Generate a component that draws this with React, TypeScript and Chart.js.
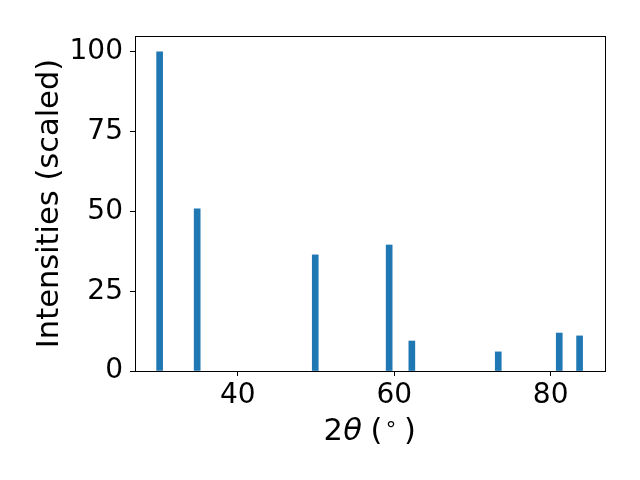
import React, { useEffect, useRef } from "react";
import { Chart, registerables } from "chart.js";

Chart.register(...registerables);

const positions = [30.0, 34.8, 49.9, 59.35, 62.25, 73.3, 81.1, 83.7];
const intensities = [100, 50.8, 36.4, 39.5, 9.4, 6.0, 11.9, 11.0];
const xTicks = [40, 60, 80];
const yTicks = [0, 25, 50, 75, 100];
const xLimits = [26.85, 86.95];
const yLimits = [0, 105];

const FONT = "'DejaVu Sans', sans-serif";
const TICK_SIZE = 28;
const LABEL_SIZE = 30.5;

const framePlugin = {
  id: "frame",
  afterDraw(chart: any) {
    const { ctx, chartArea } = chart;
    ctx.save();
    ctx.strokeStyle = "#000";
    ctx.lineWidth = 1;
    ctx.strokeRect(
      Math.round(chartArea.left) + 0.5,
      Math.round(chartArea.top) + 0.5,
      Math.round(chartArea.right - chartArea.left),
      Math.round(chartArea.bottom - chartArea.top)
    );
    // x title: 2θ (°)
    const cx = (chartArea.left + chartArea.right) / 2;
    const y = 440;
    const parts: { t: string; f: string; dx: number; dy: number }[] = [
      { t: "2", f: `${LABEL_SIZE}px ${FONT}`, dx: -36.7, dy: 0 },
      { t: "θ", f: `italic ${LABEL_SIZE}px ${FONT}`, dx: -17.5, dy: 0 },
      { t: "(", f: `${LABEL_SIZE}px ${FONT}`, dx: 6.5, dy: 0 },
      { t: "°", f: `21px ${FONT}`, dx: 21, dy: -3 },
      { t: ")", f: `${LABEL_SIZE}px ${FONT}`, dx: 40, dy: 0 },
    ];
    ctx.fillStyle = "#000";
    ctx.textBaseline = "alphabetic";
    ctx.textAlign = "center";
    for (const p of parts) {
      ctx.font = p.f;
      ctx.fillText(p.t, cx + p.dx, y + p.dy);
    }
    ctx.restore();
  },
};

export default function App() {
  const ref = useRef<HTMLCanvasElement>(null);
  useEffect(() => {
    document.body.style.margin = "0";
    const chart = new Chart(ref.current!, {
      type: "bar",
      data: {
        datasets: [
          {
            data: positions.map((p, i) => ({ x: p, y: intensities[i] })),
            backgroundColor: "#1f77b4",
            barThickness: 6,
          },
        ],
      },
      options: {
        animation: false,
        responsive: false,
        layout: { padding: { top: 36, right: 35, left: 0, bottom: 0 } },
        plugins: { legend: { display: false }, tooltip: { enabled: false } },
        scales: {
          x: {
            type: "linear",
            offset: false,
            min: xLimits[0],
            max: xLimits[1],
            afterBuildTicks: (s: any) => {
              s.ticks = xTicks.map((v) => ({ value: v }));
            },
            afterFit: (s: any) => {
              s.height = 109;
            },
            grid: { offset: false, drawOnChartArea: false, drawTicks: true, tickLength: 5, color: "#000" },
            border: { display: true, color: "#000" },
            ticks: { color: "#000", font: { family: FONT, size: TICK_SIZE }, padding: 3, maxRotation: 0 },
          },
          y: {
            min: yLimits[0],
            max: yLimits[1],
            afterBuildTicks: (s: any) => {
              s.ticks = yTicks.map((v) => ({ value: v }));
            },
            afterFit: (s: any) => {
              s.width = 135;
            },
            grid: { drawOnChartArea: false, drawTicks: true, tickLength: 5, color: "#000" },
            border: { display: true, color: "#000" },
            title: {
              display: true,
              text: "Intensities (scaled)",
              color: "#000",
              font: { family: FONT, size: LABEL_SIZE },
              padding: { top: 32, bottom: 0 },
            },
            ticks: { color: "#000", font: { family: FONT, size: TICK_SIZE }, padding: 7 },
          },
        },
      },
      plugins: [framePlugin],
    });
    return () => chart.destroy();
  }, []);
  return (
    <div style={{ width: 640, height: 480 }}>
      <canvas ref={ref} width={640} height={480} />
    </div>
  );
}
